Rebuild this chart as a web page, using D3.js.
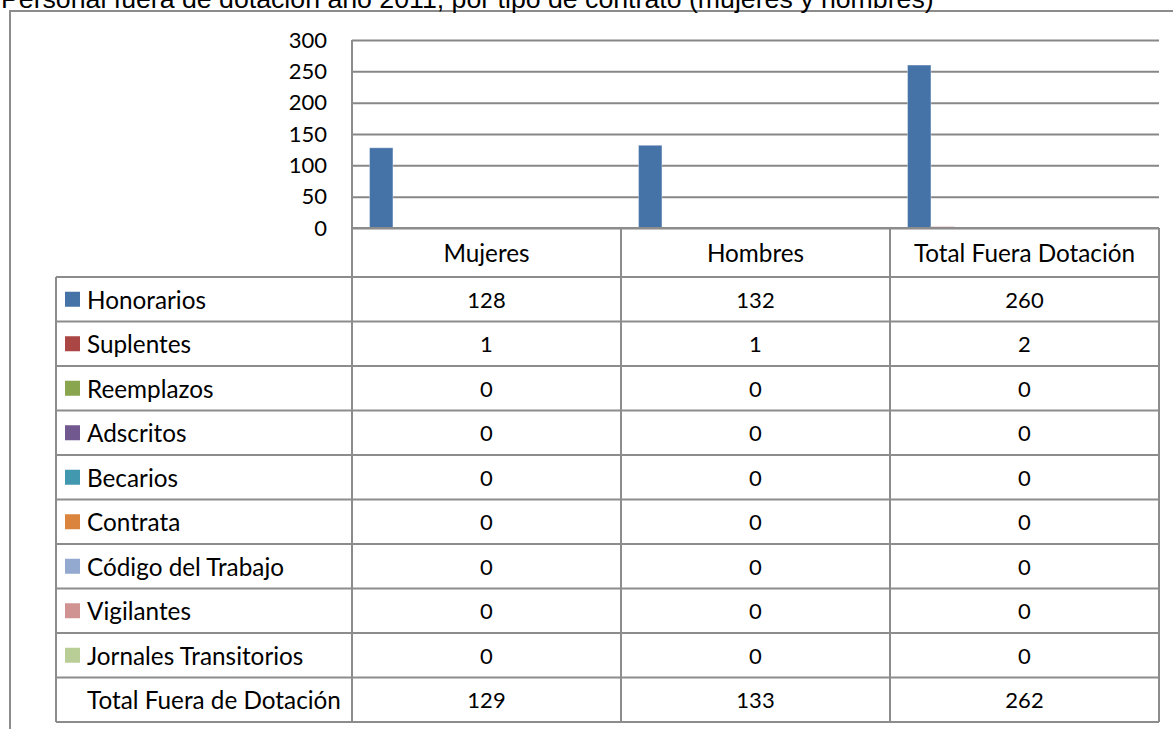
<!DOCTYPE html>
<html lang="es">
<head>
  <meta charset="UTF-8">
  <title>Personal fuera de dotación</title>
  <style>
    body { margin: 0; background: #fff; }
    svg { display: block; }
  </style>
</head>
<body>
  <svg id="svg" width="1173" height="729"></svg>

  <script src="https://d3js.org/d3.v7.min.js"></script>
  <script>
    const title = "Personal fuera de dotación año 2011, por tipo de contrato (mujeres y hombres)"

    const categories = ["Mujeres", "Hombres", "Total Fuera Dotación"]
    const series = ["Honorarios", "Suplentes", "Reemplazos", "Adscritos", "Becarios",
      "Contrata", "Código del Trabajo", "Vigilantes", "Jornales Transitorios", "Total Fuera de Dotación"]

    const honorarios = [128, 132, 260]
    const suplentes = [1, 1, 2]
    const reemplazos = [0, 0, 0]
    const adscritos = [0, 0, 0]
    const becarios = [0, 0, 0]
    const contrata = [0, 0, 0]
    const codigoTrabajo = [0, 0, 0]
    const vigilantes = [0, 0, 0]
    const jornales = [0, 0, 0]
    const totalFuera = [129, 133, 262]

    const yTicks = [0, 50, 100, 150, 200, 250, 300]

    // last series has no fill in the chart, only shows in the table
    const colors = ["#4572A7", "#AA4643", "#89A54E", "#71588F", "#4198AF",
      "#DB843D", "#93A9CF", "#D19392", "#B9CD96", "none"]

    const values = [honorarios, suplentes, reemplazos, adscritos, becarios,
      contrata, codigoTrabajo, vigilantes, jornales, totalFuera]

    const font = "Lato, 'Open Sans', sans-serif"
    const wordSize = "24.3px"
    const numSize = "22px"
    const gridColor = "#878787"

    const svg = d3.select("#svg")

    // outer frame
    svg.append("path")
      .attr("d", d3.line()([[10, 729], [10, 11], [1173, 11]]))
      .attr("fill", "none")
      .attr("stroke", "#8c8c8c")
      .attr("stroke-width", 2)

    svg.append("text")
      .text(title)
      .attr("x", 1)
      .attr("y", 7.5)
      .style("font-family", "'Liberation Sans', Arial, sans-serif")
      .style("font-size", "26.7px")

    const x0 = d3.scaleBand()
      .domain(categories)
      .range([352, 1159])

    const x1 = d3.scaleBand()
      .domain(series)
      .range([0, x0.bandwidth()])
      .paddingInner(0)
      .paddingOuter(0.75)

    const y = d3.scaleLinear()
      .domain([0, 300])
      .range([228, 40])

    const rowY = d3.scaleBand()
      .domain(series)
      .range([277, 722])

    // gridlines + labels
    const yAxis = svg.append("g")
      .attr("transform", "translate(352,0)")
      .call(d3.axisLeft(y)
        .tickValues(yTicks)
        .tickSize(-(1159 - 352))
        .tickPadding(25))
    yAxis.select(".domain").remove()
    yAxis.selectAll(".tick line")
      .attr("stroke", gridColor)
      .attr("stroke-width", 2)
    yAxis.selectAll(".tick text")
      .style("font-family", font)
      .style("font-size", numSize)
      .attr("fill", "#000")

    // bars
    const groups = svg.append("g")
      .selectAll("g")
      .data(series)
      .enter()
      .append("g")
      .attr("fill", (d, i) => colors[i])

    groups.selectAll("rect")
      .data((s, i) => values[i].map((v, j) => ({ cat: categories[j], v, s })))
      .enter()
      .append("rect")
      .attr("x", d => x0(d.cat) + x1(d.s))
      .attr("width", x1.bandwidth())
      .attr("y", d => y(d.v))
      .attr("height", d => y(0) - y(d.v))
      .attr("stroke", d => d.v > 0 && d.s != "Total Fuera de Dotación" ? "#ffffff" : "none")
      .attr("stroke-opacity", 0.35)
      .attr("stroke-width", 1)

    // data table
    const table = svg.append("g")
      .attr("stroke", "#8c8c8c")
      .attr("stroke-width", 2)
      .attr("fill", "none")

    // header row
    table.append("line")
      .attr("x1", x0.range()[0]).attr("x2", x0.range()[1])
      .attr("y1", y(0)).attr("y2", y(0))
    // plot-area left edge, down through the table
    table.append("line")
      .attr("x1", x0.range()[0]).attr("x2", x0.range()[0])
      .attr("y1", y(300)).attr("y2", rowY.range()[1])
    categories.forEach(c => {
      table.append("line")
        .attr("x1", x0(c) + x0.bandwidth()).attr("x2", x0(c) + x0.bandwidth())
        .attr("y1", y(0)).attr("y2", rowY.range()[1])
    })
    table.append("line")
      .attr("x1", 56).attr("x2", 56)
      .attr("y1", rowY.range()[0]).attr("y2", rowY.range()[1])
    series.concat(["end"]).forEach((s, i) => {
      const yy = i < series.length ? rowY(s) : rowY.range()[1]
      table.append("line")
        .attr("x1", 56).attr("x2", x0.range()[1])
        .attr("y1", yy).attr("y2", yy)
    })

    svg.append("g")
      .selectAll("text")
      .data(categories)
      .enter()
      .append("text")
      .text(d => d)
      .attr("x", d => x0(d) + x0.bandwidth() / 2)
      .attr("y", y(0) + (rowY.range()[0] - y(0)) / 2)
      .attr("text-anchor", "middle")
      .attr("dominant-baseline", "central")
      .style("font-family", font)
      .style("font-size", wordSize)

    const rows = svg.append("g")
      .selectAll("g")
      .data(series)
      .enter()
      .append("g")
      .attr("transform", d => `translate(0,${rowY(d) + rowY.bandwidth() / 2})`)

    rows.filter((d, i) => colors[i] != "none")
      .append("rect")
      .attr("x", 65)
      .attr("y", -7.5)
      .attr("width", 15)
      .attr("height", 15)
      .attr("fill", d => colors[series.indexOf(d)])

    rows.append("text")
      .text(d => d)
      .attr("x", 87)
      .attr("dominant-baseline", "central")
      .style("font-family", font)
      .style("font-size", wordSize)

    rows.selectAll(".val")
      .data((s, i) => values[i].map((v, j) => ({ cat: categories[j], v })))
      .enter()
      .append("text")
      .attr("class", "val")
      .text(d => d.v)
      .attr("x", d => x0(d.cat) + x0.bandwidth() / 2)
      .attr("text-anchor", "middle")
      .attr("dominant-baseline", "central")
      .style("font-family", font)
      .style("font-size", numSize)
  </script>
</body>
</html>
